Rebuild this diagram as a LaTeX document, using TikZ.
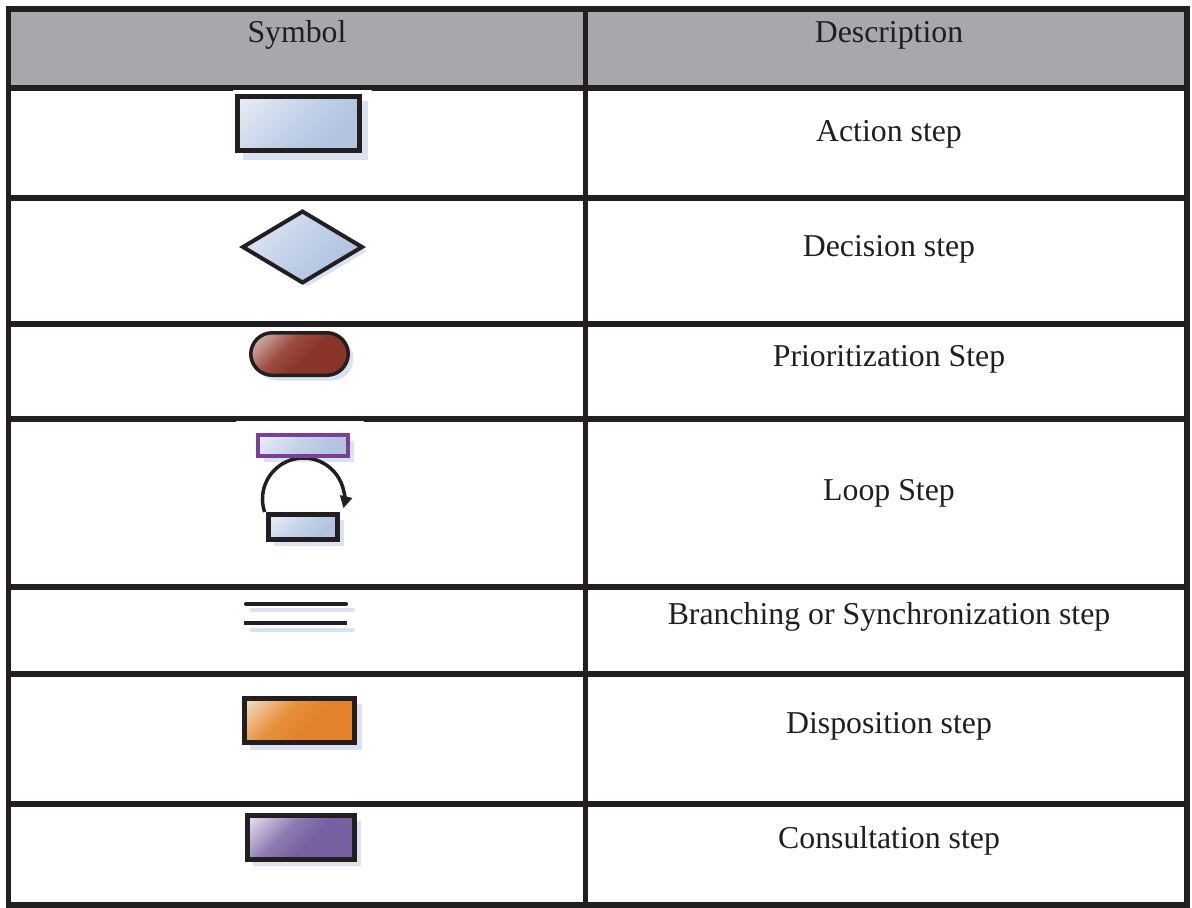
\documentclass[tikz,border=0pt]{standalone}
\usepackage{fontspec}
\setmainfont{Liberation Serif}
\usetikzlibrary{arrows.meta}

\definecolor{rule}{HTML}{231F20}
\definecolor{headgray}{HTML}{A7A8AC}
\definecolor{shadowblue}{HTML}{DAE2F0}
\definecolor{paleblue}{HTML}{E6ECF6}
\definecolor{midblue}{HTML}{C6D3E9}
\definecolor{steelblue}{HTML}{B2C4E0}
\definecolor{palebrick}{HTML}{DDC2C0}
\definecolor{midbrick}{HTML}{9C4C42}
\definecolor{brick}{HTML}{8A3529}
\definecolor{paleorange}{HTML}{F1DCC8}
\definecolor{midorange}{HTML}{E8923C}
\definecolor{orange}{HTML}{E3822A}
\definecolor{palelilac}{HTML}{E6E2EF}
\definecolor{midlilac}{HTML}{8E7BB1}
\definecolor{lilac}{HTML}{7761A0}
\definecolor{loopviolet}{HTML}{7B3F98}

% diagonal fills: pale corner at the top, full colour over most of the face
\pgfdeclareverticalshading{blueshade}{100bp}{color(0bp)=(steelblue); color(32bp)=(steelblue);
  color(55bp)=(midblue); color(82bp)=(paleblue); color(100bp)=(paleblue)}
\pgfdeclareverticalshading{brickshade}{100bp}{color(0bp)=(brick); color(45bp)=(brick);
  color(60bp)=(midbrick); color(84bp)=(palebrick); color(100bp)=(palebrick)}
\pgfdeclareverticalshading{orangeshade}{100bp}{color(0bp)=(orange); color(45bp)=(orange);
  color(60bp)=(midorange); color(84bp)=(paleorange); color(100bp)=(paleorange)}
\pgfdeclareverticalshading{lilacshade}{100bp}{color(0bp)=(lilac); color(45bp)=(lilac);
  color(60bp)=(midlilac); color(84bp)=(palelilac); color(100bp)=(palelilac)}

\begin{document}
\begin{tikzpicture}[x=0.5pt,y=-0.5pt,
  tablerule/.style={draw=rule, line width=2.75pt, line cap=rect},
  celltext/.style={anchor=base, inner sep=0pt, text=rule!95!black,
    font=\fontsize{15.9pt}{18pt}\selectfont},
  symshadow/.style={fill=shadowblue},
  symedge/.style={draw=rule, line width=2.25pt},
  bluefill/.style={shading=blueshade, shading angle=45},
  brickfill/.style={shading=brickshade, shading angle=45},
  orangefill/.style={shading=orangeshade, shading angle=45},
  lilacfill/.style={shading=lilacshade, shading angle=45}]

\useasboundingbox (0,0) rectangle (1192,907);
\fill[white] (0,0) rectangle (1192,907);

% header band
\fill[headgray] (8.5,9) rectangle (1187,88);

% table rules
\foreach \y in {9,88,198,324,419,587,674,804,905}
  \draw[tablerule] (8.5,\y) -- (1187,\y);
\foreach \x in {8.5,585.5,1187}
  \draw[tablerule] (\x,9) -- (\x,905);

% white backgrounds of the symbol artwork trimming the rules
\fill[white] (233,90.2) rectangle (372,91.5);
\fill[white] (236,420.6) rectangle (364,421.8);

% header texts
\node[celltext] (hsymbol) at (297,42) {Symbol};
\node[celltext] (hdesc) at (889,42) {Description};

% action step
\fill[symshadow] (243,101) rectangle (368,160);
\draw[symedge, bluefill] (237.5,96.5) rectangle (359.5,150.5);
\node[celltext] (taction) at (889,141) {Action step};

% decision step
\fill[symshadow] (248,251) -- (307.5,215.5) -- (367,251) -- (307.5,286.5) -- cycle;
\draw[symedge, line width=2pt, bluefill] (243,247) -- (302.5,211.5) -- (362,247) -- (302.5,282.5) -- cycle;
\node[celltext] (tdecision) at (889,256) {Decision step};

% prioritization step
\fill[symshadow, rounded corners=10.75pt] (255.5,337.5) rectangle (353.5,380.5);
\draw[symedge, line width=1.75pt, rounded corners=10.75pt, brickfill] (250.75,332.75) rectangle (348.25,375.25);
\node[celltext] (tprior) at (889,366) {Prioritization Step};

% loop step
\fill[symshadow] (263.75,440.75) rectangle (354.25,462.25);
\fill[symshadow] (274,520) rectangle (344,546);
\draw[draw=rule, line width=1.75pt, -{Triangle[length=6pt,width=6pt]}]
  (264.6,512) arc[start angle=161.5, end angle=373, radius=41];
\draw[draw=loopviolet, line width=2pt, bluefill] (258,435) rectangle (348,456);
\draw[symedge, line width=2.5pt, bluefill] (268.5,514.5) rectangle (337.5,539.5);
\node[celltext] (tloop) at (889,500) {Loop Step};

% branching or synchronization step
\draw[shadowblue, line width=1.6pt, line cap=round] (251,610) -- (353,610);
\draw[rule, line width=2.1pt, line cap=round] (246,604) -- (346,604);
\draw[shadowblue, line width=1.6pt, line cap=round] (251,630) -- (353,630);
\draw[rule, line width=2.1pt] (244,623) -- (347,623);
\node[celltext] (tbranch) at (889,624) {Branching or Synchronization step};

% disposition step
\fill[symshadow] (250,704) rectangle (362,750);
\draw[symedge, orangefill] (244.5,698.5) rectangle (354.5,742.5);
\node[celltext] (tdispo) at (889,733) {Disposition step};

% consultation step
\fill[symshadow] (253,821) rectangle (361,866);
\draw[symedge, lilacfill] (247.5,815.5) rectangle (354.5,859.5);
\node[celltext] (tconsult) at (889,848) {Consultation step};

\end{tikzpicture}
\end{document}
